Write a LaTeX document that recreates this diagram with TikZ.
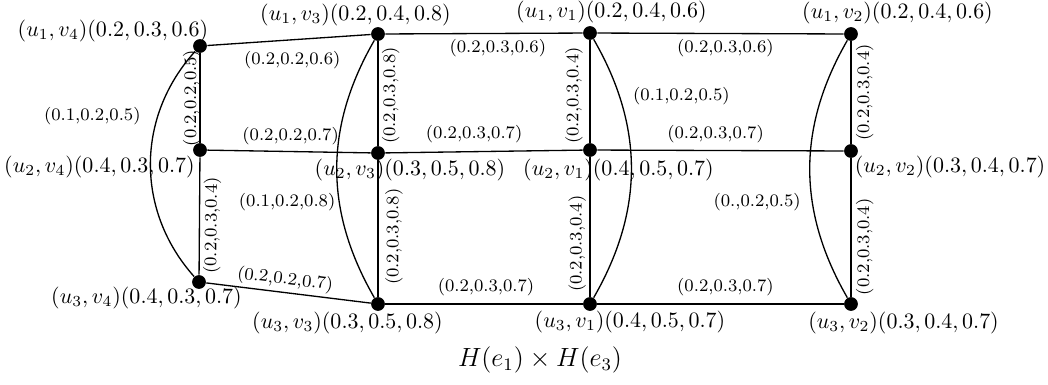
\documentclass[tikz,border=0pt]{standalone}
\usepackage{amsmath}
\usepackage{tikz}
\usetikzlibrary{positioning,calc}

\begin{document}
\begin{tikzpicture}[
  x=0.016cm, y=-0.016cm,
  vert/.style={circle, fill=black, inner sep=0pt, minimum size=2.2mm},
  link/.style={semithick, black},
  wlab/.style={font=\footnotesize, inner sep=1.5pt},
  vlab/.style={inner sep=1pt},
  capt/.style={font=\large}
]
\useasboundingbox (0,0) rectangle (1048,384);

% ---- vertices ----
\node[vert] (u14) at (200,46)  {};
\node[vert] (u24) at (200,150) {};
\node[vert] (u34) at (199,282) {};
\node[vert] (u13) at (378,34)  {};
\node[vert] (u23) at (378,153) {};
\node[vert] (u33) at (378,304) {};
\node[vert] (u11) at (590,33)  {};
\node[vert] (u21) at (590,150) {};
\node[vert] (u31) at (590,304) {};
\node[vert] (u12) at (851,34)  {};
\node[vert] (u22) at (851,151) {};
\node[vert] (u32) at (851,304) {};

% ---- vertex labels ----
\node[vlab] (n14) at ($(u14)+(-87,-15)$)   {$(u_1, v_4)(0.2, 0.3, 0.6)$};
\node[vlab] (n13) at ($(u13)+(-22.5,-19)$) {$(u_1, v_3)(0.2, 0.4, 0.8)$};
\node[vlab] (n11) at ($(u11)+(21.5,-21)$)  {$(u_1, v_1)(0.2, 0.4, 0.6)$};
\node[vlab] (n12) at ($(u12)+(46.5,-21)$)  {$(u_1, v_2)(0.2, 0.4, 0.6)$};
\node[vlab] (n24) at ($(u24)+(-100.5,17)$) {$(u_2, v_4)(0.4, 0.3, 0.7)$};
\node[vlab] (n23) at ($(u23)+(32,17)$)     {$(u_2, v_3)(0.3, 0.5, 0.8)$};
\node[vlab] (n21) at ($(u21)+(28.5,20)$)   {$(u_2, v_1)(0.4, 0.5, 0.7)$};
\node[vlab] (n22) at ($(u22)+(99,16)$)     {$(u_2, v_2)(0.3, 0.4, 0.7)$};
\node[vlab] (n34) at ($(u34)+(-52.5,16)$)  {$(u_3, v_4)(0.4, 0.3, 0.7)$};
\node[vlab] (n33) at ($(u33)+(-30.5,19)$)  {$(u_3, v_3)(0.3, 0.5, 0.8)$};
\node[vlab] (n31) at ($(u31)+(40,18)$)     {$(u_3, v_1)(0.4, 0.5, 0.7)$};
\node[vlab] (n32) at ($(u32)+(52.5,19)$)   {$(u_3, v_2)(0.3, 0.4, 0.7)$};

% ---- rows ----
\draw[link] (u14) -- node[wlab, pos=0.52, below=3.6pt] (w1) {(0.2,0.2,0.6)} (u13);
\draw[link] (u13) -- node[wlab, pos=0.57, below=1pt] (w2) {(0.2,0.3,0.6)} (u11);
\draw[link] (u11) -- node[wlab, pos=0.52, below=1pt] (w3) {(0.2,0.3,0.6)} (u12);
\draw[link] (u24) -- node[wlab, pos=0.51, above=1pt] (w4) {(0.2,0.2,0.7)} (u23);
\draw[link] (u23) -- node[wlab, pos=0.45, above=2pt] (w5) {(0.2,0.3,0.7)} (u21);
\draw[link] (u21) -- node[wlab, pos=0.48, above=1.5pt] (w6) {(0.2,0.3,0.7)} (u22);
\draw[link] (u34) -- node[wlab, pos=0.47, sloped, above=0pt] (w7) {(0.2,0.2,0.7)} (u33);
\draw[link] (u33) -- node[wlab, pos=0.51, above=2pt] (w8) {(0.2,0.3,0.7)} (u31);
\draw[link] (u31) -- node[wlab, pos=0.52, above=2pt] (w9) {(0.2,0.3,0.7)} (u32);

% ---- columns (drawn upwards) ----
\draw[link] (u24) -- node[wlab, pos=0.5, sloped, above=-2pt] (w10) {(0.2,0.2,0.5)} (u14);
\draw[link] (u34) -- node[wlab, pos=0.42, sloped, below=0pt] (w11) {(0.2,0.3,0.4)} (u24);
\draw[link] (u23) -- node[wlab, pos=0.48, sloped, below=0pt] (w12) {(0.2,0.3,0.8)} (u13);
\draw[link] (u33) -- node[wlab, pos=0.44, sloped, below=1.5pt] (w13) {(0.2,0.3,0.8)} (u23);
\draw[link] (u21) -- node[wlab, pos=0.46, sloped, above=1.5pt] (w14) {(0.2,0.3,0.4)} (u11);
\draw[link] (u31) -- node[wlab, pos=0.38, sloped, above=0pt] (w15) {(0.2,0.3,0.4)} (u21);
\draw[link] (u22) -- node[wlab, pos=0.5, sloped, below=0.5pt] (w16) {(0.2,0.3,0.4)} (u12);
\draw[link] (u32) -- node[wlab, pos=0.36, sloped, below=0.5pt] (w17) {(0.2,0.3,0.4)} (u22);

% ---- curved edges ----
\draw[link] (u14) to[bend right=42] node[wlab, pos=0.3, left=6pt] (c1) {(0.1,0.2,0.5)} (u34);
\draw[link] (u13) to[bend right=30] node[wlab, pos=0.63, left=0pt] (c2) {(0.1,0.2,0.8)} (u33);
\draw[link] (u11) to[bend left=30] node[wlab, pos=0.22, right=4.4pt] (c3) {(0.1,0.2,0.5)} (u31);
\draw[link] (u12) to[bend right=30] node[wlab, pos=0.63, left=3.5pt] (c4) {(0.,0.2,0.5)} (u32);

% ---- caption ----
\node[capt] (cap) at (540,360) {$H(e_1)\times H(e_3)$};
\end{tikzpicture}
\end{document}
